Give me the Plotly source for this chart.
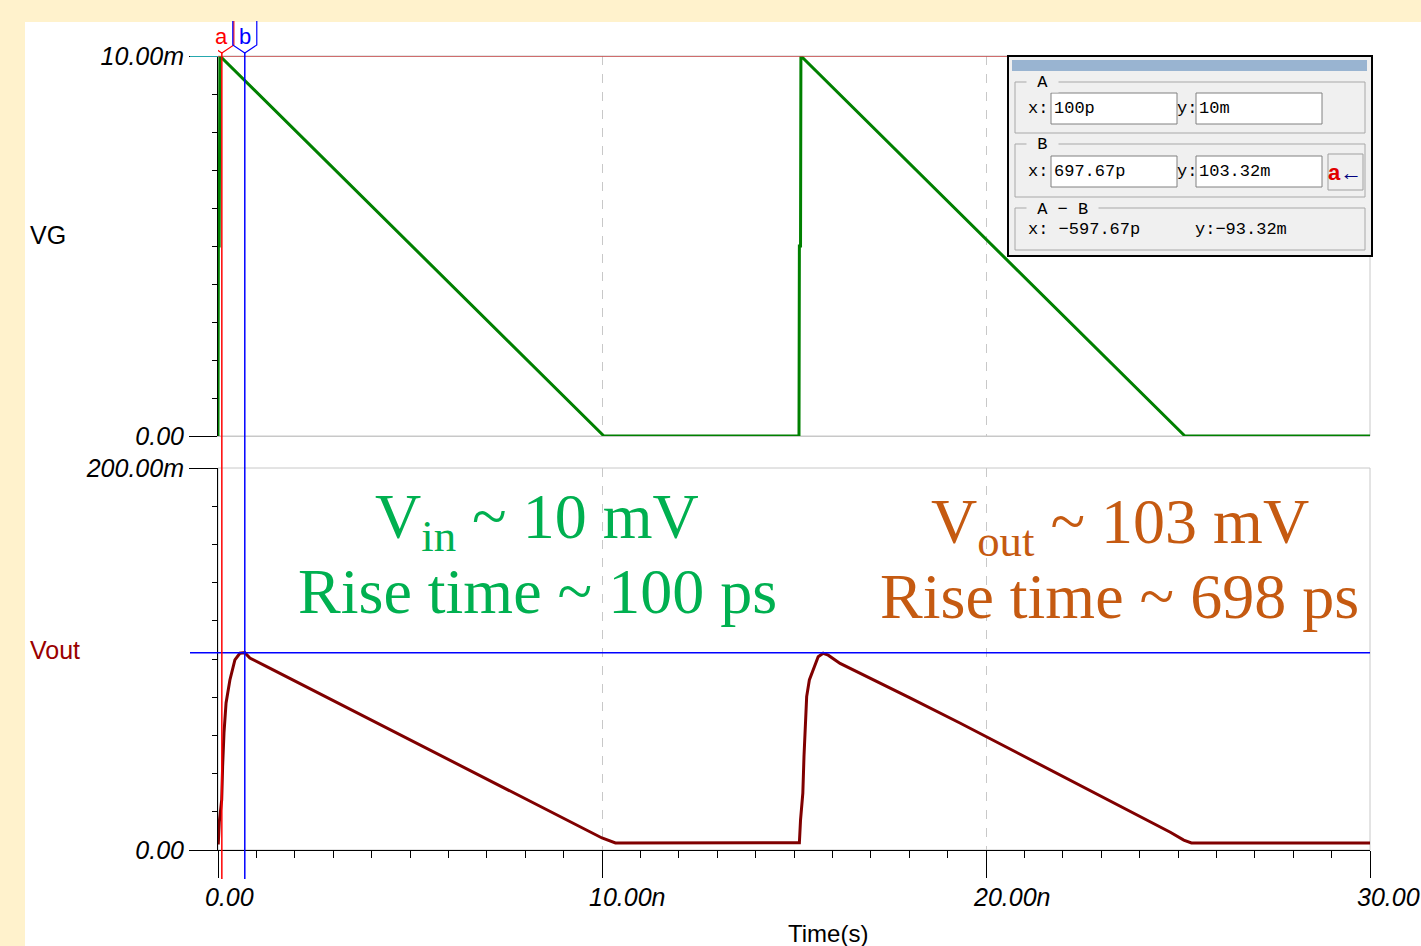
import plotly.graph_objects as go

# ---------------- data (time in ns, voltage in mV) ----------------
vg_t = [0, 0.01, 0.03, 0.05, 10.05, 15.13, 15.14, 15.17, 15.18, 25.18, 30]
vg_v = [0, 5, 5, 10, 0, 0, 5, 5, 10, 0, 0]

vout_t = [0, 0.008, 0.034, 0.096, 0.12, 0.156, 0.21, 0.27, 0.31, 0.44, 0.57, 0.698,
          0.83, 1.27, 6.04, 9.6, 10.0, 10.35,
          15.14, 15.17, 15.23, 15.26, 15.29, 15.33, 15.40, 15.50, 15.63, 15.76,
          15.89, 16.20, 16.72, 18.02, 19.32, 24.8, 25.15, 25.35, 30]
vout_v = [3.7, 3.7, 14.8, 26.2, 43.6, 61.3, 77.0, 85.5, 89.0, 99.5, 103.0, 103.32,
          100.5, 96.0, 47.1, 10.6, 6.3, 3.7,
          3.8, 15.7, 29.8, 48.8, 66.5, 80.3, 89.0, 94.2, 101.2, 103.0,
          102.0, 97.7, 92.6, 79.6, 66.5, 9.3, 5.2, 3.7, 3.7]

x_major = [0, 10, 20, 30]
x_major_text = ["0.00", "10.00n", "20.00n", "30.00"]
x_medium = [5, 15, 25]
vg_ticks = [0, 10]
vg_ticktext = ["0.00", "10.00m"]
vout_ticks = [0, 200]
vout_ticktext = ["0.00", "200.00m"]

cursor_a = (0.1, 10.0)        # ns, mV
cursor_b = (0.69767, 103.32)  # ns, mV
cursor_a_text = ("100p", "10m")
cursor_b_text = ("697.67p", "103.32m")
diff_text = ("\u2212597.67p", "\u221293.32m")

# ---------------- geometry helpers (pixel -> paper) ----------------
L, R, T, B = 218, 1370, 56, 850
W, H = R - L, B - T


def PX(x):
    return (x - L) / W


def PY(y):
    return (B - y) / H


GREEN = "#008000"
DRED = "#800000"
TICKFONT = dict(family="Liberation Sans, Arial", size=25, color="black", style="italic")

fig = go.Figure()
fig.add_trace(go.Scatter(x=vg_t, y=vg_v, mode="lines", line=dict(color=GREEN, width=3),
                         xaxis="x2", yaxis="y2", name="VG"))
fig.add_trace(go.Scatter(x=vout_t, y=vout_v, mode="lines", line=dict(color=DRED, width=3),
                         xaxis="x", yaxis="y", name="Vout"))

top_dom = [PY(436), 1.0]
bot_dom = [0.0, PY(468)]

fig.update_layout(
    width=1421, height=946, autosize=False,
    margin=dict(l=L, r=1421 - R, t=T, b=946 - B, pad=0),
    paper_bgcolor="#FFF2CC", plot_bgcolor="white",
    showlegend=False,
    xaxis=dict(domain=[0, 1], anchor="y", range=[0, 30], showline=True, linecolor="black",
               linewidth=1, ticks="outside", tickvals=x_major, ticklen=27, tickcolor="black",
               tickwidth=1, showticklabels=False, showgrid=True, gridcolor="#C8C8C8",
               griddash="dash", gridwidth=1, zeroline=False,
               minor=dict(dtick=1, ticklen=7, tickcolor="black", ticks="outside", showgrid=False)),
    xaxis4=dict(overlaying="x", anchor="y", range=[0, 30], tickvals=x_medium, ticks="outside",
                ticklen=15, tickcolor="black", showticklabels=False, showgrid=False,
                showline=False, zeroline=False),
    xaxis2=dict(domain=[0, 1], anchor="y2", range=[0, 30], showline=True, linecolor="#C8C8C8",
                linewidth=1, ticks="", tickvals=x_major, showticklabels=False, showgrid=True,
                gridcolor="#C8C8C8", griddash="dash", gridwidth=1, zeroline=False),
    yaxis=dict(domain=bot_dom, anchor="x", range=[0, 200], showline=True, linecolor="black",
               linewidth=1, ticks="outside", tickvals=vout_ticks, ticktext=vout_ticktext,
               ticklen=28, tickcolor="black", tickfont=TICKFONT, showgrid=False, zeroline=False,
               minor=dict(dtick=20, ticklen=5, tickcolor="black", ticks="outside", showgrid=False)),
    yaxis2=dict(domain=top_dom, anchor="x2", range=[0, 10], showline=True, linecolor="black",
                linewidth=1, ticks="outside", tickvals=vg_ticks, ticktext=vg_ticktext,
                ticklen=28, tickcolor="black", tickfont=TICKFONT, showgrid=False, zeroline=False,
                minor=dict(dtick=1, ticklen=5, tickcolor="black", ticks="outside", showgrid=False)),
    yaxis3=dict(overlaying="y2", anchor="x2", range=[0, 10], tickvals=[5], ticks="outside",
                ticklen=12, tickcolor="black", showticklabels=False, showgrid=False,
                showline=False, zeroline=False),
)

shapes = []
# white inner sheet
shapes.append(dict(type="rect", xref="paper", yref="paper", x0=PX(25), x1=PX(1425),
                   y0=PY(950), y1=PY(22), fillcolor="white", line=dict(width=0), layer="below"))
# panel borders
shapes.append(dict(type="rect", xref="x domain", yref="y domain", x0=0, x1=1, y0=0, y1=1,
                   line=dict(color="#C8C8C8", width=1), layer="below"))
shapes.append(dict(type="rect", xref="x2 domain", yref="y2 domain", x0=0, x1=1, y0=0, y1=1,
                   line=dict(color="#C8C8C8", width=1), layer="below"))
# cursor horizontal lines
shapes.append(dict(type="line", xref="x2", yref="y2", x0=0, x1=30, y0=cursor_a[1], y1=cursor_a[1],
                   line=dict(color="#C84646", width=1.5)))
shapes.append(dict(type="line", xref="paper", yref="y2", x0=PX(190), x1=0, y0=cursor_a[1],
                   y1=cursor_a[1], line=dict(color="#33E0E8", width=1.5)))
shapes.append(dict(type="line", xref="paper", yref="y", x0=PX(190), x1=1, y0=cursor_b[1],
                   y1=cursor_b[1], line=dict(color="#0000FF", width=1.5)))
# cursor vertical lines
for cx, col in [(cursor_a[0], "#FF0000"), (cursor_b[0], "#0000FF")]:
    shapes.append(dict(type="line", xref="x", yref="paper", x0=cx, x1=cx, y0=PY(879), y1=PY(53),
                       line=dict(color=col, width=1.5)))
    shapes.append(dict(type="path", xref="x", yref="paper", xsizemode="pixel", ysizemode="pixel",
                       xanchor=cx, yanchor=PY(53),
                       path="M -12,32 L -12,8 L 0,0 L 12,8 L 12,32",
                       line=dict(color=col, width=1.2)))

# cursor info box
def rect(x0, y0, x1, y1, fill, lc, lw):
    return dict(type="rect", xref="paper", yref="paper", x0=PX(x0), x1=PX(x1), y0=PY(y1),
                y1=PY(y0), fillcolor=fill, line=dict(color=lc, width=lw))


shapes.append(rect(1008, 56, 1372, 256, "#F0F0F0", "black", 2))
shapes.append(rect(1012, 60, 1367, 71, "#99B4D1", "#99B4D1", 0))
for (y0, y1) in [(82, 133), (144, 197), (208, 250)]:
    shapes.append(rect(1015, y0, 1365, y1, "rgba(0,0,0,0)", "#A8A8A8", 1))
for (x0, x1) in [(1051, 1177), (1196, 1322)]:
    for (y0, y1) in [(93, 124), (156, 187)]:
        shapes.append(rect(x0, y0, x1, y1, "white", "#808080", 1))
shapes.append(rect(1328, 154, 1363, 190, "#F0F0F0", "#A0A0A0", 1))
fig.update_layout(shapes=shapes)

ann = []
# x tick labels
for v, t in zip(x_major, x_major_text):
    ann.append(dict(x=v, xref="x", y=PY(897), yref="paper", text=t, showarrow=False,
                    xanchor="left", yanchor="middle", xshift=-15, font=TICKFONT))
# axis names
ann.append(dict(x=PX(28), y=PY(235), xref="paper", yref="paper", text="VG", showarrow=False,
                xanchor="left", yanchor="middle",
                font=dict(family="Liberation Sans, Arial", size=25, color="black")))
ann.append(dict(x=PX(28), y=PY(650), xref="paper", yref="paper", text="Vout", showarrow=False,
                xanchor="left", yanchor="middle",
                font=dict(family="Liberation Sans, Arial", size=25, color="#9A0000")))
ann.append(dict(x=PX(828), y=PY(933), xref="paper", yref="paper", text="Time(s)",
                showarrow=False, xanchor="center", yanchor="middle",
                font=dict(family="Liberation Sans, Arial", size=24, color="black")))
# cursor flag letters
ann.append(dict(x=cursor_a[0], xref="x", y=PY(36), yref="paper", text="a", showarrow=False,
                xanchor="center", yanchor="middle",
                font=dict(family="Liberation Sans, Arial", size=22, color="#FF0000")))
ann.append(dict(x=cursor_b[0], xref="x", y=PY(36), yref="paper", text="b", showarrow=False,
                xanchor="center", yanchor="middle",
                font=dict(family="Liberation Sans, Arial", size=22, color="#0000FF")))
# big annotations
SERIF = "Liberation Serif, Times New Roman, serif"
for txt_, cx, cy, col in [
    ("V<sub>in</sub> ~ 10 mV", 537, 521, "#00B050"),
    ("Rise time ~ 100 ps", 537, 591, "#00B050"),
    ("V<sub>out</sub> ~ 103 mV", 1120, 526, "#C55A11"),
    ("Rise time ~ 698 ps", 1119, 596, "#C55A11"),
]:
    ann.append(dict(x=PX(cx), y=PY(cy), xref="paper", yref="paper", text=txt_, showarrow=False,
                    xanchor="center", yanchor="middle",
                    font=dict(family=SERIF, size=64, color=col)))
# info box text
MONO = dict(family="Liberation Mono, DejaVu Sans Mono, monospace", size=17, color="black")


def txt(x, y, s, anchor="left", bg=None, font=MONO):
    d = dict(x=PX(x), y=PY(y), xref="paper", yref="paper", text=s, showarrow=False,
             xanchor=anchor, yanchor="middle", font=font, borderpad=0)
    if bg:
        d["bgcolor"] = bg
    return d


ann.append(txt(1026, 83, " A ", bg="#F0F0F0"))
ann.append(txt(1026, 145, " B ", bg="#F0F0F0"))
ann.append(txt(1026, 209, " A \u2212 B ", bg="#F0F0F0"))
ann.append(txt(1027, 108, "x:"))
ann.append(txt(1176, 108, "y:"))
ann.append(txt(1053, 108, cursor_a_text[0]))
ann.append(txt(1198, 108, cursor_a_text[1]))
ann.append(txt(1027, 171, "x:"))
ann.append(txt(1176, 171, "y:"))
ann.append(txt(1053, 171, cursor_b_text[0]))
ann.append(txt(1198, 171, cursor_b_text[1]))
ann.append(txt(1027, 230, "x: " + diff_text[0]))
ann.append(txt(1194, 230, "y:" + diff_text[1]))
ann.append(dict(x=PX(1345), y=PY(173), xref="paper", yref="paper",
                text="<b><span style='color:#E00000'>a</span></b><span style='color:#000080'>\u2190</span>",
                showarrow=False, xanchor="center", yanchor="middle",
                font=dict(family="Liberation Sans, Arial", size=22, color="black")))
fig.update_layout(annotations=ann)

fig.write_html(
    "out.html",
    config={"displayModeBar": False},
    post_script="document.body.style.margin='0px';document.body.style.overflow='hidden';"
                "document.body.style.background='#FFF2CC';",
)
